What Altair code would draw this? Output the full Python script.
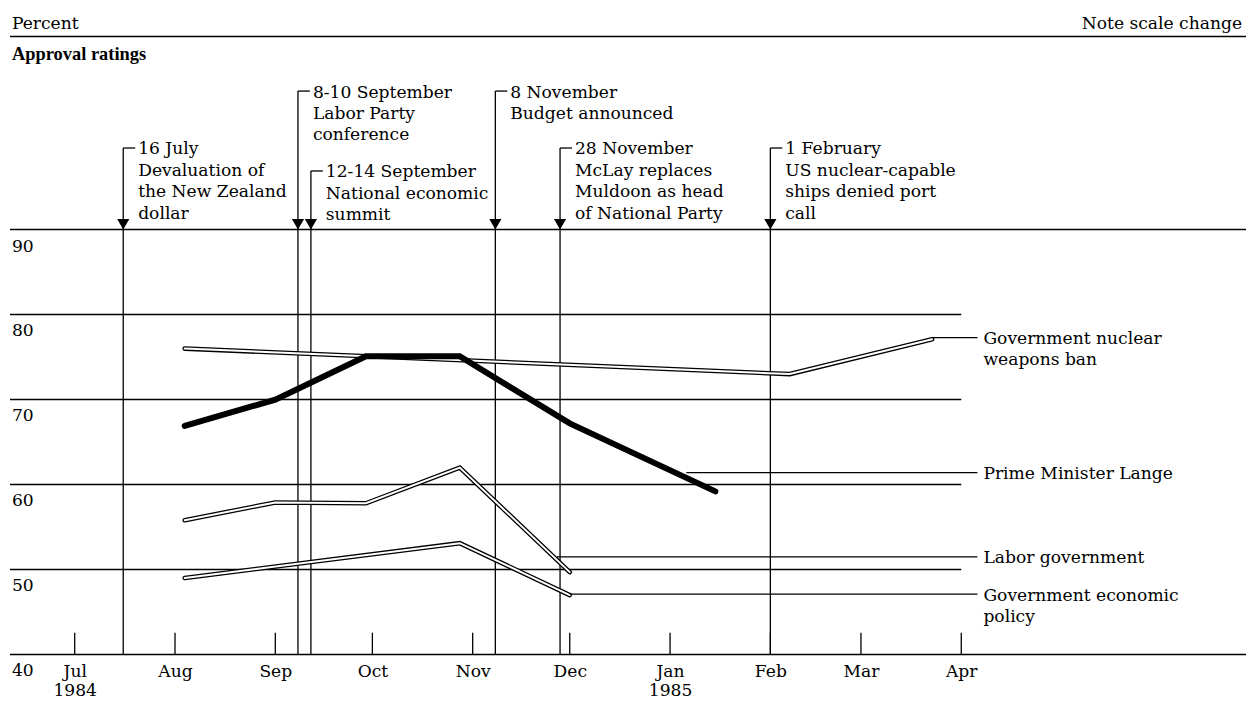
import altair as alt
import pandas as pd

FONT = "DejaVu Serif"
BOLD_FONT = "Liberation Serif"
FS = 17.2

# ---------------- data ----------------
lange_dates = ["1984-08-04", "1984-09-01", "1984-09-29", "1984-10-28", "1984-12-01", "1985-01-15"]
lange_values = [66.9, 70.0, 75.1, 75.1, 67.2, 59.2]

labor_dates = ["1984-08-04", "1984-09-01", "1984-09-29", "1984-10-28", "1984-12-01"]
labor_values = [55.8, 57.9, 57.8, 62.0, 49.7]

econ_dates = ["1984-08-04", "1984-10-28", "1984-12-01"]
econ_values = [49.0, 53.1, 47.0]

nuclear_dates = ["1984-08-04", "1985-02-07", "1985-03-23"]
nuclear_values = [76.0, 73.0, 77.1]

series_labels = ["Government nuclear|weapons ban", "Prime Minister Lange",
                 "Labor government", "Government economic|policy"]
series_label_from = ["1985-03-23", "1985-01-06", "1984-11-27", "1984-12-01"]
series_label_level = [77.3, 61.4, 51.5, 47.1]
label_column_date = "1985-04-06"

event_dates = ["1984-07-16", "1984-09-08", "1984-09-12", "1984-11-08", "1984-11-28", "1985-02-01"]
event_texts = [
    "16 July|Devaluation of|the New Zealand|dollar",
    "8-10 September|Labor Party|conference",
    "12-14 September|National economic|summit",
    "8 November|Budget announced",
    "28 November|McLay replaces|Muldoon as head|of National Party",
    "1 February|US nuclear-capable|ships denied port|call",
]
event_levels = [99.6, 106.3, 96.9, 106.3, 99.6, 99.6]

month_dates = ["1984-07-01", "1984-08-01", "1984-09-01", "1984-10-01", "1984-11-01",
               "1984-12-01", "1985-01-01", "1985-02-01", "1985-03-01", "1985-04-01"]
y_ticks = [40, 50, 60, 70, 80, 90]
full_grid = [90, 40]
short_grid = [50, 60, 70, 80]
DOMAIN_START = "1984-06-11"
DOMAIN_END = "1985-06-28"
GRID_END = "1985-04-01"
TOP_RULE = 112.72
HEADER_LEVEL = 113.62
SUBHEAD_LEVEL = 109.9


def dt(s):
    y, m, d = map(int, s.split("-"))
    return alt.DateTime(year=y, month=m, date=d, utc=True)


XSCALE = alt.Scale(type="utc", domain=[dt(DOMAIN_START), dt(DOMAIN_END)], nice=False)
YSCALE = alt.Scale(domain=[40, 90], nice=False, zero=False)
XAXIS = alt.Axis(
    values=[dt(s) for s in month_dates],
    labelExpr="(utcmonth(datum.value) == 6 || utcmonth(datum.value) == 0) ? "
              "[utcFormat(datum.value, '%b'), utcFormat(datum.value, '%Y')] : utcFormat(datum.value, '%b')",
    title=None, domain=False, ticks=False, grid=False, labelPadding=8,
    labelFont=FONT, labelFontSize=FS, labelColor="black", labelLineHeight=19,
    labelFlush=False, labelOverlap=False,
)


def X(f):
    return alt.X(f"{f}:T", scale=XSCALE, axis=XAXIS)


def Y(f):
    return alt.Y(f"{f}:Q", scale=YSCALE, axis=None)


# ---------------- frames ----------------
long_df = pd.DataFrame({"v": [TOP_RULE] + full_grid, "s": DOMAIN_START, "e": DOMAIN_END})
short_df = pd.DataFrame({"v": short_grid, "s": DOMAIN_START, "e": GRID_END})
tick_df = pd.DataFrame({"d": month_dates, "v": 40})
ev_df = pd.DataFrame({"d": event_dates, "text": event_texts, "level": event_levels,
                      "base": 40, "arrow": 90})

double_df = pd.concat([
    pd.DataFrame({"d": nuclear_dates, "v": nuclear_values, "series": "nuclear"}),
    pd.DataFrame({"d": labor_dates, "v": labor_values, "series": "labor"}),
    pd.DataFrame({"d": econ_dates, "v": econ_values, "series": "econ"}),
])
lange_df = pd.DataFrame({"d": lange_dates, "v": lange_values})
lab_df = pd.DataFrame({"s": series_label_from, "e": label_column_date,
                       "v": series_label_level, "text": series_labels})
ylab_df = pd.DataFrame({"v": y_ticks, "d": DOMAIN_START, "t": [str(v) for v in y_ticks]})
head_df = pd.DataFrame({"d": [DOMAIN_START], "e": [DOMAIN_END], "v": [HEADER_LEVEL],
                        "sv": [SUBHEAD_LEVEL]})

# ---------------- layers ----------------
long_grid = alt.Chart(long_df).mark_rule(color="black", strokeWidth=1.5).encode(
    x=X("s"), x2="e", y=Y("v"))
short_grid_l = alt.Chart(short_df).mark_rule(color="black", strokeWidth=1.5).encode(
    x=X("s"), x2="e", y=Y("v"))
ticks = alt.Chart(tick_df).mark_rule(color="black", strokeWidth=1.3, y2Offset=-22).encode(
    x=X("d"), y=Y("v"), y2="v")

ev_lines = alt.Chart(ev_df).mark_rule(color="black", strokeWidth=1.3).encode(
    x=X("d"), y=Y("level"), y2="base")
ev_brackets = alt.Chart(ev_df).mark_rule(color="black", strokeWidth=1.3, x2Offset=12).encode(
    x=X("d"), x2="d", y=Y("level"))
ev_arrows = alt.Chart(ev_df).mark_point(shape="triangle-down", filled=True, size=150,
                                        yOffset=-5.3, color="black", opacity=1).encode(
    x=X("d"), y=Y("arrow"))
ev_text = alt.Chart(ev_df).transform_calculate(lines="split(datum.text, '|')").mark_text(
    align="left", baseline="alphabetic", dx=15, dy=6.5, lineHeight=21.5,
    font=FONT, fontSize=FS, color="black").encode(
    x=X("d"), y=Y("level"), text="lines:N")

dbl_outer = alt.Chart(double_df).mark_line(color="black", strokeWidth=4.6, strokeCap="round").encode(
    x=X("d"), y=Y("v"), detail="series:N")
dbl_inner = alt.Chart(double_df).mark_line(color="white", strokeWidth=2.0, strokeCap="round").encode(
    x=X("d"), y=Y("v"), detail="series:N")
thick = alt.Chart(lange_df).mark_line(color="black", strokeWidth=6, strokeCap="round").encode(
    x=X("d"), y=Y("v"))

leaders = alt.Chart(lab_df).mark_rule(color="black", strokeWidth=1.2).encode(
    x=X("s"), x2="e", y=Y("v"))
lab_text = alt.Chart(lab_df).transform_calculate(lines="split(datum.text, '|')").mark_text(
    align="left", baseline="alphabetic", dx=6, dy=6.5, lineHeight=21,
    font=FONT, fontSize=FS, color="black").encode(
    x=X("e"), y=Y("v"), text="lines:N")

ylabels = alt.Chart(ylab_df).mark_text(align="left", baseline="alphabetic", dx=2, dy=22,
                                       font=FONT, fontSize=FS, color="black").encode(
    x=X("d"), y=Y("v"), text="t:N")

head_left = alt.Chart(head_df).mark_text(align="left", baseline="alphabetic", dx=2,
                                         font=FONT, fontSize=FS, color="black",
                                         text="Percent").encode(x=X("d"), y=Y("v"))
head_right = alt.Chart(head_df).mark_text(align="right", baseline="alphabetic", dx=-4,
                                          font=FONT, fontSize=FS, color="black",
                                          text="Note scale change").encode(x=X("e"), y=Y("v"))
subhead = alt.Chart(head_df).mark_text(align="left", baseline="alphabetic", dx=2,
                                       font=BOLD_FONT, fontSize=18.5, fontWeight="bold",
                                       color="black", text="Approval ratings").encode(
    x=X("d"), y=Y("sv"))

chart = alt.layer(
    long_grid, short_grid_l, ticks, ev_lines, ev_brackets, ev_arrows,
    dbl_outer, dbl_inner, thick, leaders, ev_text, lab_text, ylabels,
    head_left, head_right, subhead,
).properties(
    width=1242, height=427,
    padding={"left": 2, "top": 221, "right": 0, "bottom": 46},
    autosize=alt.AutoSizeParams(type="none"),
    background="white",
).configure_view(stroke=None)

chart.save("out.html", embed_options={"renderer": "svg", "actions": False})
